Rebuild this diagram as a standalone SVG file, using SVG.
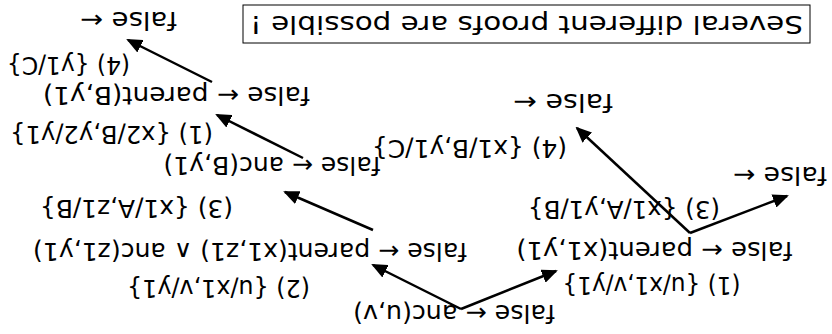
<svg xmlns="http://www.w3.org/2000/svg" width="832" height="334" viewBox="0 0 832 334">
<style>
text{font-family:"DejaVu Sans","Liberation Sans",sans-serif;font-size:24px;fill:#000;text-anchor:middle;dominant-baseline:central}
.c{stroke:#000;stroke-width:2.5;fill:none;marker-end:url(#ah)}
.box{fill:#fff;stroke:#000;stroke-width:1}
</style>
<defs>
<marker id="ah" markerUnits="userSpaceOnUse" markerWidth="16" markerHeight="14" refX="14" refY="7" orient="auto">
<path d="M0,0 L16,7 L0,14 z" fill="#000"/>
</marker>
</defs>
<rect width="832" height="334" fill="#fff"/>
<g transform="rotate(180 416 167)">
<g id="title"><rect class="box" x="22" y="291" width="567" height="38"/><text x="305.5" y="310" textLength="553" lengthAdjust="spacingAndGlyphs">Several different proofs are possible !</text></g>
<g id="connectors">
<line class="c" x1="371" y1="25" x2="459" y2="69"/>
<line class="c" x1="371" y1="25" x2="276" y2="63"/>
<line class="c" x1="142" y1="101" x2="255" y2="206"/>
<line class="c" x1="142" y1="101" x2="45" y2="138"/>
<line class="c" x1="459" y1="104" x2="547" y2="142"/>
<line class="c" x1="529" y1="176" x2="615" y2="219"/>
<line class="c" x1="620" y1="252" x2="704" y2="294"/>
</g>
<g id="n-root"><text x="378" y="21" textLength="202" lengthAdjust="spacingAndGlyphs">false ← anc(u,v)</text></g>
<g id="l-1a"><text x="180.5" y="49" textLength="178" lengthAdjust="spacingAndGlyphs">(1) {u/x1,v/y1}</text></g>
<g id="l-2a"><text x="613.5" y="46" textLength="183" lengthAdjust="spacingAndGlyphs">(2) {u/x1,v/y1}</text></g>
<g id="n-left"><text x="177.5" y="84" textLength="276" lengthAdjust="spacingAndGlyphs">false ← parent(x1,y1)</text></g>
<g id="n-right"><text x="582" y="83" textLength="434" lengthAdjust="spacingAndGlyphs">false ← parent(x1,z1) ∧ anc(z1,y1)</text></g>
<g id="l-3a"><text x="208" y="125" textLength="192" lengthAdjust="spacingAndGlyphs">(3) {x1/A,y1/B}</text></g>
<g id="l-3b"><text x="695.5" y="126" textLength="193" lengthAdjust="spacingAndGlyphs">(3) {x1/A,z1/B}</text></g>
<g id="n-f1"><text x="52" y="159" textLength="94" lengthAdjust="spacingAndGlyphs">false ←</text></g>
<g id="n-anc"><text x="560" y="169" textLength="217" lengthAdjust="spacingAndGlyphs">false ← anc(B,y1)</text></g>
<g id="l-4a"><text x="362.5" y="186" textLength="195" lengthAdjust="spacingAndGlyphs">(4) {x1/B,y1/C}</text></g>
<g id="l-1b"><text x="720.5" y="200" textLength="203" lengthAdjust="spacingAndGlyphs">(1) {x2/B,y2/y1}</text></g>
<g id="n-f2"><text x="269" y="232" textLength="100" lengthAdjust="spacingAndGlyphs">false ←</text></g>
<g id="n-parB"><text x="655.5" y="239" textLength="267" lengthAdjust="spacingAndGlyphs">false ← parent(B,y1)</text></g>
<g id="l-4b"><text x="763.5" y="269" textLength="123" lengthAdjust="spacingAndGlyphs">(4) {y1/C}</text></g>
<g id="n-f3"><text x="703.5" y="314" textLength="97" lengthAdjust="spacingAndGlyphs">false ←</text></g>
</g>
</svg>
